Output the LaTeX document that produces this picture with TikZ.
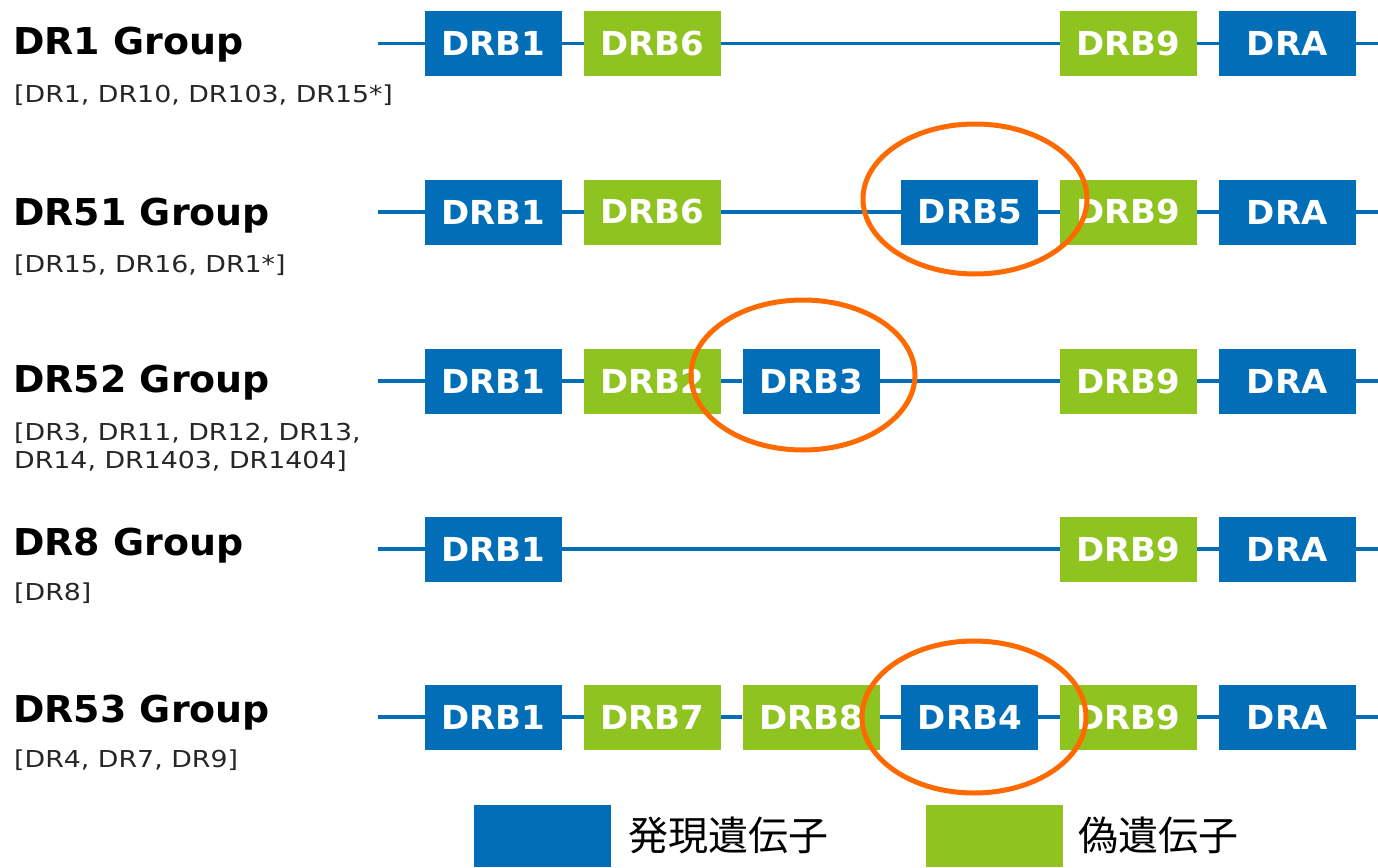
\documentclass[tikz,border=0pt]{standalone}
\usepackage{fontspec}
\setmainfont{DejaVu Sans}
\newfontfamily\titlefont[FakeStretch=1.025]{DejaVu Sans}
\newfontfamily\subfont[FakeStretch=1.15]{DejaVu Sans}
\newfontfamily\boxfont[FakeStretch=1.03]{DejaVu Sans}
\newfontfamily\jpfont{Noto Sans CJK JP}
\definecolor{geneblue}{HTML}{036EB8}
\definecolor{genegreen}{HTML}{8FC31F}
\definecolor{ringorange}{HTML}{FF6A00}
\tikzset{
  gene/.style={rectangle, minimum width=137pt, minimum height=65pt, inner sep=0pt,
    text=white, font=\boxfont\bfseries\fontsize{33}{36}\selectfont},
  expressed/.style={gene, fill=geneblue},
  pseudo/.style={gene, fill=genegreen},
  backbone/.style={draw=geneblue, line width=3.5pt},
  grouptitle/.style={anchor=base west, inner sep=0pt, font=\titlefont\bfseries\fontsize{37}{44}\selectfont},
  groupsub/.style={anchor=base west, inner sep=0pt, text=black!85, font=\subfont\fontsize{23.3}{28}\selectfont},
  ring/.style={draw=ringorange, line width=5pt},
  legendbox/.style={rectangle, minimum width=137pt, minimum height=62pt, inner sep=0pt, anchor=north west},
  legendtext/.style={anchor=west, inner sep=0pt, font=\jpfont\fontsize{40}{44}\selectfont}
}
\begin{document}
\begin{tikzpicture}[x=1pt, y=-1pt]
\useasboundingbox (0,0) rectangle (1378,867);
% columns
\def\ca{493.5}\def\cb{652.25}\def\cc{811}\def\cd{969.75}\def\ce{1128.5}\def\cf{1287.25}
% ---------------- Row 1
\node[grouptitle] (t1) at (13,55) {DR1 Group};
\node[groupsub] (s1) at (14,102) {[DR1, DR10, DR103, DR15*]};
\coordinate (r1s) at (378,43.5); \coordinate (r1e) at (1378,43.5);
\node[expressed] (r1a) at (\ca,43.5) {DRB1};
\node[pseudo] (r1b) at (\cb,43.5) {DRB6};
\node[pseudo] (r1e9) at (\ce,43.5) {DRB9};
\node[expressed] (r1f) at (\cf,43.5) {DRA};
\draw[backbone] (r1s) -- (r1a) -- (r1b) -- (r1e9) -- (r1f) -- (r1e);
% ---------------- Row 2
\node[grouptitle] (t2) at (13,225) {DR51 Group};
\node[groupsub] (s2) at (14,272) {[DR15, DR16, DR1*]};
\coordinate (r2s) at (378,212); \coordinate (r2e) at (1378,212);
\node[expressed] (r2a) at (\ca,212) {DRB1};
\node[pseudo] (r2b) at (\cb,212) {DRB6};
\node[expressed] (r2d) at (\cd,212) {DRB5};
\node[pseudo] (r2e9) at (\ce,212) {DRB9};
\node[expressed] (r2f) at (\cf,212) {DRA};
\draw[backbone] (r2s) -- (r2a) -- (r2b) -- (r2d) -- (r2e9) -- (r2f) -- (r2e);
% ---------------- Row 3
\node[grouptitle] (t3) at (13,392) {DR52 Group};
\node[groupsub] (s3a) at (14,440) {[DR3, DR11, DR12, DR13,};
\node[groupsub] (s3b) at (14,468) {DR14, DR1403, DR1404]};
\coordinate (r3s) at (378,381); \coordinate (r3e) at (1378,381);
\node[expressed] (r3a) at (\ca,381) {DRB1};
\node[pseudo] (r3b) at (\cb,381) {DRB2};
\node[expressed] (r3c) at (\cc,381) {DRB3};
\node[pseudo] (r3e9) at (\ce,381) {DRB9};
\node[expressed] (r3f) at (\cf,381) {DRA};
\draw[backbone] (r3s) -- (r3a) -- (r3b) -- (r3c) -- (r3e9) -- (r3f) -- (r3e);
% ---------------- Row 4
\node[grouptitle] (t4) at (13,555) {DR8 Group};
\node[groupsub] (s4) at (14,600) {[DR8]};
\coordinate (r4s) at (378,549); \coordinate (r4e) at (1378,549);
\node[expressed] (r4a) at (\ca,549) {DRB1};
\node[pseudo] (r4e9) at (\ce,549) {DRB9};
\node[expressed] (r4f) at (\cf,549) {DRA};
\draw[backbone] (r4s) -- (r4a) -- (r4e9) -- (r4f) -- (r4e);
% ---------------- Row 5
\node[grouptitle] (t5) at (13,722) {DR53 Group};
\node[groupsub] (s5) at (14,767) {[DR4, DR7, DR9]};
\coordinate (r5s) at (378,717); \coordinate (r5e) at (1378,717);
\node[expressed] (r5a) at (\ca,717) {DRB1};
\node[pseudo] (r5b) at (\cb,717) {DRB7};
\node[pseudo] (r5c) at (\cc,717) {DRB8};
\node[expressed] (r5d) at (\cd,717) {DRB4};
\node[pseudo] (r5e9) at (\ce,717) {DRB9};
\node[expressed] (r5f) at (\cf,717) {DRA};
\draw[backbone] (r5s) -- (r5a) -- (r5b) -- (r5c) -- (r5d) -- (r5e9) -- (r5f) -- (r5e);
% ---------------- Highlight rings
\draw[ring] (975,199) ellipse [x radius=112, y radius=75];
\draw[ring] (803,375) ellipse [x radius=112, y radius=75];
\draw[ring] (974,717) ellipse [x radius=112, y radius=76];
% ---------------- Legend
\node[legendbox, fill=geneblue] (lb) at (474,805) {};
\node[legendtext] (lbt) at (628,835.5) {発現遺伝子};
\node[legendbox, fill=genegreen] (lg) at (926,805) {};
\node[legendtext] (lgt) at (1078,835.5) {偽遺伝子};
\end{tikzpicture}
\end{document}
